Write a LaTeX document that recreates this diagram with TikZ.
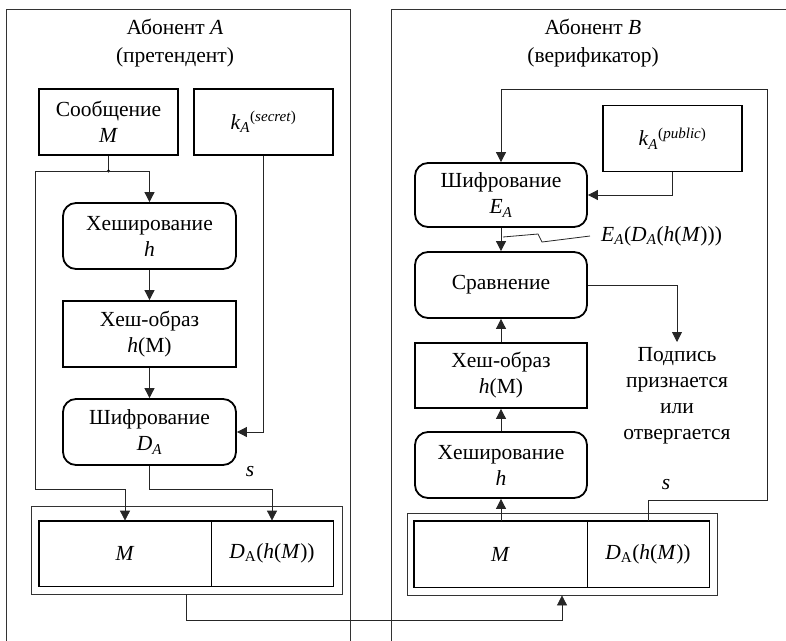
\documentclass[tikz,border=0pt]{standalone}
\usepackage{fontspec}
\setmainfont{Liberation Serif}
\usetikzlibrary{arrows.meta,calc}

\tikzset{
  every node/.style={font=\fontsize{21.5}{26}\selectfont, inner sep=0pt},
  thin line/.style={line width=0.8pt, draw=black!85},
  arr/.style={thin line, -{Triangle[length=10pt,width=10pt]}},
  sqbox/.style={draw, line width=1.8pt, align=center, minimum width=173pt, minimum height=66pt},
  rndbox/.style={sqbox, rounded corners=13pt},
  keybox/.style={draw, line width=1.8pt, align=center, minimum width=139pt, minimum height=66pt},
  cell/.style={draw, line width=0.8pt, minimum height=65pt, align=center},
  packet/.style={draw=black!80, line width=0.8pt},
  panel/.style={draw=black!80, line width=0.9pt},
  title/.style={align=center, font=\fontsize{21.5}{28}\selectfont},
}

\begin{document}
\begin{tikzpicture}[x=1pt, y=-1pt]
  \clip (0,0) rectangle (786,640);

  % the two parties
  \draw[panel] (6,660) |- (350,9) -- (350,660);
  \draw[panel] (391,660) |- (800,9);
  \node[title] (titleA) at (175,43) {Абонент \textit{A}\\(претендент)};
  \node[title] (titleB) at (593,43) {Абонент \textit{B}\\(верификатор)};

  % ---------- party A: signing ----------
  \node[keybox] (msg)  at (108.5,122) {Сообщение\\\textit{M}};
  \node[keybox] (ksec) at (263.5,122) {\textit{k}\textsubscript{\textit{A}}\textsuperscript{(\textit{secret})}};
  \node[rndbox] (hashA) at (149.5,236) {Хеширование\\\textit{h}};
  \node[sqbox]  (himgA) at (149.5,334) {Хеш-образ\\\textit{h}(M)};
  \node[rndbox] (encA)  at (149.5,432) {Шифрование\\\textit{D}\textsubscript{\textit{A}}};

  \node[packet, minimum width=311pt, minimum height=88pt] (pktA) at (186.5,550) {};
  \node[cell, minimum width=172pt] (mA) at (125,553.5) {\textit{M}};
  \node[cell, minimum width=122pt] (dA) at (272,553.5) {\textit{D}\textsubscript{A}(\textit{h}(\textit{M}))};
  \draw[line width=1.8pt] (mA.north west) rectangle (dA.south east);

  \coordinate (jA) at (108.5,171);
  \coordinate (railA) at (35,489);
  \coordinate (busA) at (0,489);
  \draw[thin line] (msg.south) -- (jA);
  \fill (jA) circle (1.6pt);
  \draw[arr] (jA) -- (jA -| hashA.north) -- (hashA.north);
  \draw[arr] (jA) -| (railA) -| (mA.north);
  \draw[arr] (hashA) -- (himgA);
  \draw[arr] (himgA) -- (encA);
  \draw[arr] (ksec.south) |- (encA.east);
  \draw[arr] (encA.south) |- (busA -| dA.north) -- (dA.north);
  \node (sA) at (250,472) {\textit{s}};

  % ---------- party B: verification ----------
  \node[keybox] (kpub) at (672.5,138.5) {\textit{k}\textsubscript{\textit{A}}\textsuperscript{(\textit{public})}};
  \node[rndbox, minimum width=172pt, minimum height=64pt] (encB) at (501,195) {Шифрование\\\textit{E}\textsubscript{\textit{A}}};
  \node[rndbox, minimum width=172pt] (cmp) at (501,285) {Сравнение};
  \node[sqbox, minimum width=172pt, minimum height=65pt] (himgB) at (501,375.5) {Хеш-образ\\\textit{h}(M)};
  \node[rndbox, minimum width=172pt] (hashB) at (501,465) {Хеширование\\\textit{h}};
  \node[align=center, anchor=north] (res) at (677,347) {Подпись\\признается\\или\\отвергается};

  \node[packet, minimum width=310pt, minimum height=82pt] (pktB) at (562,554) {};
  \node[cell, minimum width=173pt, minimum height=66pt] (mB) at (500.5,554) {\textit{M}};
  \node[cell, minimum width=122pt, minimum height=66pt] (dB) at (648,554) {\textit{D}\textsubscript{A}(\textit{h}(\textit{M}))};
  \draw[line width=1.8pt] (mB.north west) rectangle (dB.south east);

  \draw[arr] (mB.north -| hashB.south) -- (hashB.south);
  \draw[arr] (hashB) -- (himgB);
  \draw[arr] (himgB) -- (cmp);
  \draw[arr] (encB) -- (cmp);
  \draw[arr] (kpub.south) |- (encB.east);
  \draw[arr] (cmp.east) -| ([yshift=5pt]res.north);

  \coordinate (loopBR) at (767,500);
  \coordinate (loopTR) at (767,89);
  \draw[arr] (dB.north) |- (loopBR) -- (loopTR) -| (encB.north);
  \node (sB) at (666,485) {\textit{s}};

  % value produced by E_A
  \node[anchor=west] (ev) at (601,236) {\textit{E}\textsubscript{\textit{A}}(\textit{D}\textsubscript{\textit{A}}(\textit{h}(\textit{M})))};
  \coordinate (evTail) at (503,237);
  \draw[thin line] (evTail) -- (538,234) -- (542,242) -- ([xshift=-11pt]ev.west);

  % transmission from A to B
  \coordinate (link) at (0,620);
  \draw[arr] (pktA.south) -- (pktA.south |- link) -| (pktB.south);
\end{tikzpicture}
\end{document}
